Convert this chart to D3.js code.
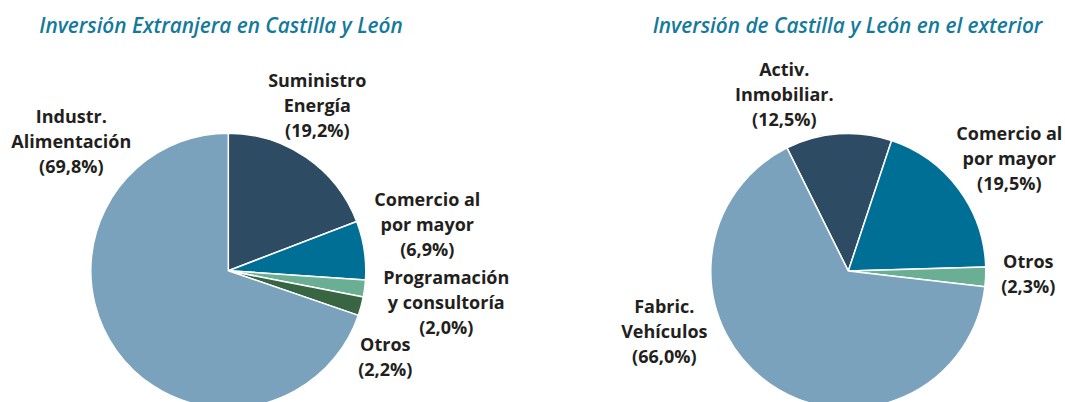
<!DOCTYPE html>
<html>
<head>
<meta charset="utf-8">
<script src="https://cdn.jsdelivr.net/npm/d3@7"></script>
<style>
    html, body { margin: 0; padding: 0; background: #ffffff; }
    svg { display: block; }
</style>
</head>
<body>
<div id="chart"></div>
<script>
'use strict';

// data: foreign investment in Castilla y León
const inCategories = ['Suministro Energía', 'Comercio al por mayor', 'Programación y consultoría', 'Otros', 'Industr. Alimentación'];
const inValues = [19.2, 6.9, 2.0, 2.2, 69.8];

// data: Castilla y León investment abroad
const outCategories = ['Activ. Inmobiliar.', 'Comercio al por mayor', 'Otros', 'Fabric. Vehículos'];
const outValues = [12.5, 19.5, 2.3, 66.0];

// label text, line by line
const inLabelLines = [
    ['Suministro', 'Energía'],
    ['Comercio al', 'por mayor'],
    ['Programación', 'y consultoría'],
    ['Otros'],
    ['Industr.', 'Alimentación']
];
const outLabelLines = [
    ['Activ.', 'Inmobiliar.'],
    ['Comercio al', 'por mayor'],
    ['Otros'],
    ['Fabric.', 'Vehículos']
];

const titles = ['Inversión Extranjera en Castilla y León', 'Inversión de Castilla y León en el exterior'];

const settings = {
    width: 1065,
    height: 402,
    radius: 137.5,
    lineHeight: 25,
    fontSize: 18,
    titleSize: 20.8,
    textColour: '#231f20',
    titleColour: '#137a9c'
};

// label anchors relative to the pie centre (x = centre of text, y = first baseline)
const inLabelPos = [[89, -184], [199, -65], [218, 13], [157, 80], [-157, -148]];
const outLabelPos = [[-64, -195], [161, -131], [180, -3], [-184, 42]];

function fmtPct(v) {
    return '(' + d3.format('.1f')(v).replace('.', ',') + '%)';
}

function drawPie(svg, cfg) {
    const pie = d3.pie()
        .sort(null)
        .value(function (d) { return d.value; })
        .startAngle(cfg.startAngle)
        .endAngle(cfg.startAngle + 2 * Math.PI);

    const arc = d3.arc()
        .innerRadius(0)
        .outerRadius(settings.radius);

    const colour = d3.scaleOrdinal()
        .domain(cfg.categories)
        .range(cfg.colours);

    const rows = cfg.categories.map(function (c, i) {
        return { category: c, value: cfg.values[i], lines: cfg.labelLines[i], pos: cfg.labelPos[i] };
    });

    const g = svg.append('g')
        .attr('transform', `translate(${cfg.cx},${cfg.cy})`);

    g.selectAll('path.slice')
        .data(pie(rows))
        .join('path')
        .attr('class', 'slice')
        .attr('d', arc)
        .attr('fill', function (d) { return colour(d.data.category); })
        .attr('stroke', '#ffffff')
        .attr('stroke-width', 1.5)
        .attr('stroke-linejoin', 'round');

    const labels = g.selectAll('text.pie-label')
        .data(rows)
        .join('text')
        .attr('class', 'pie-label')
        .attr('text-anchor', 'middle')
        .attr('font-family', '"Open Sans", "Noto Sans", sans-serif')
        .attr('font-weight', 700)
        .attr('font-size', settings.fontSize)
        .attr('fill', settings.textColour)
        .attr('x', function (d) { return d.pos[0]; })
        .attr('y', function (d) { return d.pos[1]; });

    labels.each(function (d) {
        const t = d3.select(this);
        const lines = d.lines.concat([fmtPct(d.value)]);
        lines.forEach(function (line, i) {
            t.append('tspan')
                .attr('x', d.pos[0])
                .attr('dy', i === 0 ? 0 : settings.lineHeight)
                .text(line);
        });
    });

    svg.append('text')
        .attr('x', cfg.titleX)
        .attr('y', 33)
        .attr('text-anchor', 'middle')
        .attr('font-family', '"Open Sans", "Noto Sans", sans-serif')
        .attr('font-style', 'italic')
        .attr('font-weight', 600)
        .attr('font-size', settings.titleSize)
        .attr('fill', settings.titleColour)
        .text(cfg.title);
}

const svg = d3.select('#chart')
    .append('svg')
    .attr('width', settings.width)
    .attr('height', settings.height);

drawPie(svg, {
    cx: 228.3,
    cy: 270.7,
    startAngle: 0,
    categories: inCategories,
    values: inValues,
    labelLines: inLabelLines,
    labelPos: inLabelPos,
    colours: ['#2d4b63', '#006f95', '#6aae93', '#386643', '#7aa2bd'],
    title: titles[0],
    titleX: 221
});

drawPie(svg, {
    cx: 848.3,
    cy: 271,
    startAngle: -26.5 * Math.PI / 180,
    categories: outCategories,
    values: outValues,
    labelLines: outLabelLines,
    labelPos: outLabelPos,
    colours: ['#2d4b63', '#006f95', '#6aae93', '#7aa2bd'],
    title: titles[1],
    titleX: 847.5
});
</script>
</body>
</html>
